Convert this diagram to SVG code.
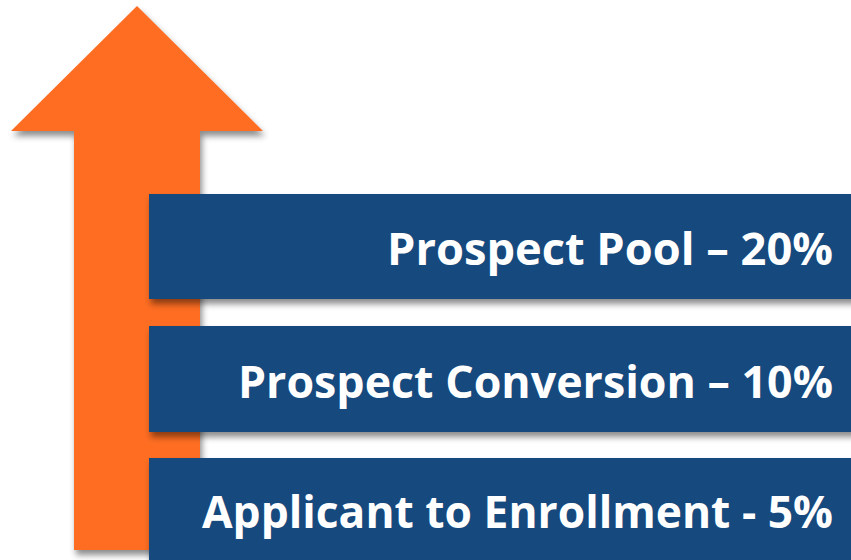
<svg xmlns="http://www.w3.org/2000/svg" width="851" height="560" viewBox="0 0 851 560">
<defs>
<filter id="sh" x="-10%" y="-10%" width="130%" height="130%">
<feDropShadow dx="2" dy="5" stdDeviation="3" flood-color="#000" flood-opacity="0.45"/>
</filter>
<style>
.box{fill:#144A7E;filter:url(#sh);}
.lbl{font-family:"Open Sans",Lato,"Liberation Sans",sans-serif;font-weight:bold;font-size:45px;fill:#ffffff;text-anchor:end;}
</style>
</defs>
<rect width="851" height="560" fill="#ffffff"/>
<g id="arrow">
<polygon points="137,6 263,131 200,131 200,550 74,550 74,131 11,131" fill="#FE6D24" filter="url(#sh)"/>
</g>
<g id="connectors"></g>
<g id="node-prospect-pool">
<rect class="box" x="149" y="194" width="710" height="105"/>
<text class="lbl" x="833" y="265" textLength="446" lengthAdjust="spacingAndGlyphs">Prospect Pool – 20%</text>
</g>
<g id="node-prospect-conversion">
<rect class="box" x="149" y="326" width="710" height="106"/>
<text class="lbl" x="833" y="398" textLength="595" lengthAdjust="spacingAndGlyphs">Prospect Conversion – 10%</text>
</g>
<g id="node-applicant-enrollment">
<rect class="box" x="149" y="458" width="710" height="110"/>
<text class="lbl" x="833" y="528" textLength="631" lengthAdjust="spacingAndGlyphs">Applicant to Enrollment - 5%</text>
</g>
</svg>
